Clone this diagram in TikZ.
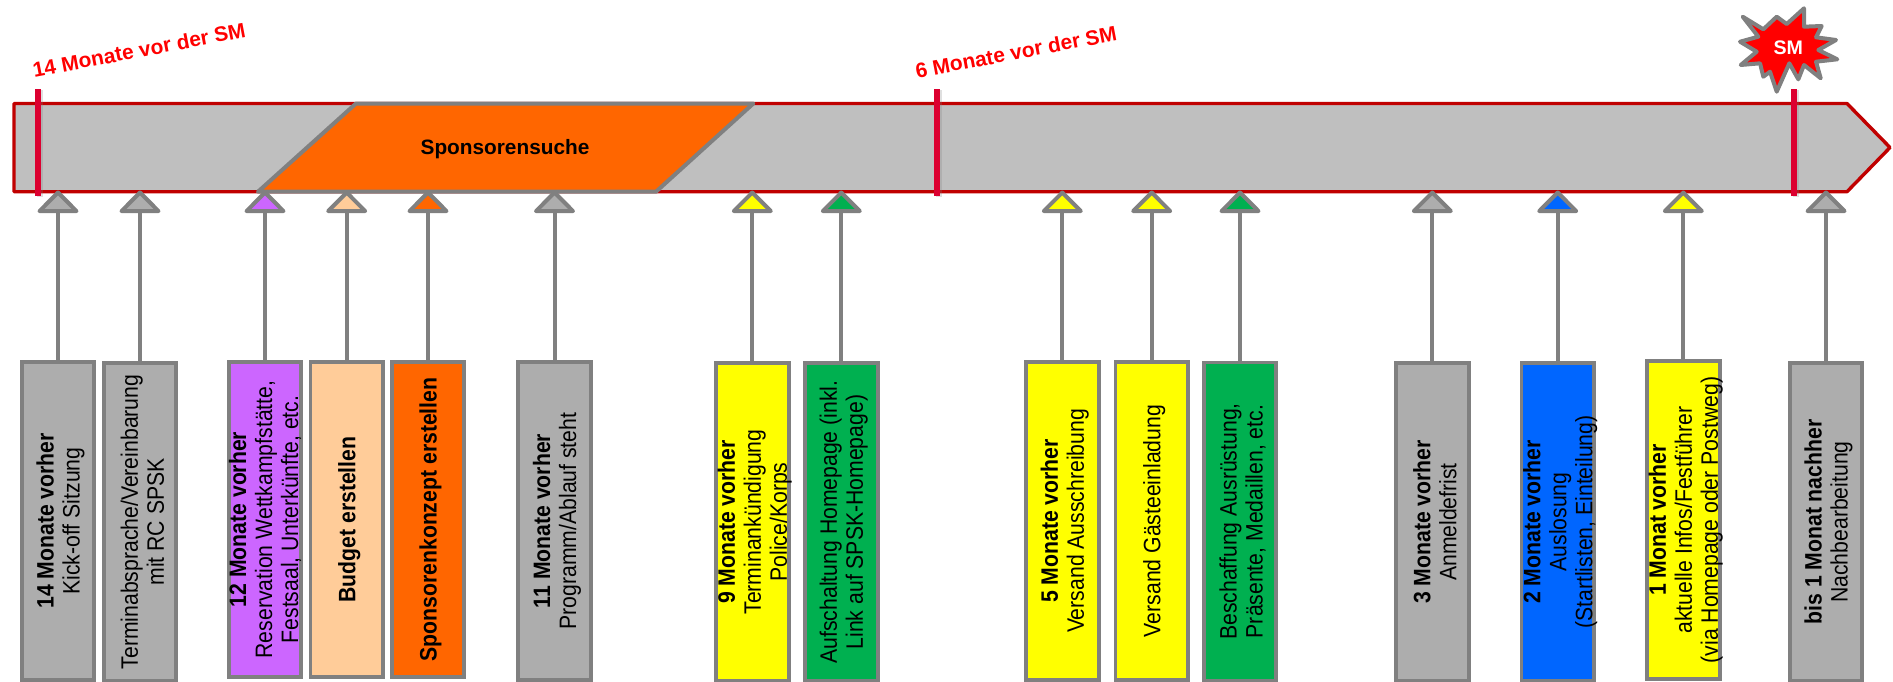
\documentclass[tikz,border=0pt]{standalone}
\usepackage{fontspec}
\setmainfont{Liberation Sans}
\usetikzlibrary{shapes.geometric,shadows}
\definecolor{barfill}{HTML}{BFBFBF}
\definecolor{barline}{HTML}{C00000}
\definecolor{tickred}{HTML}{DC0030}
\definecolor{edgegray}{HTML}{808080}
\definecolor{boxgray}{HTML}{ADADAD}
\definecolor{boxpurple}{HTML}{CC66FF}
\definecolor{boxpeach}{HTML}{FFCC99}
\definecolor{boxorange}{HTML}{FF6600}
\definecolor{boxyellow}{HTML}{FFFF00}
\definecolor{boxgreen}{HTML}{00B050}
\definecolor{boxblue}{HTML}{0066FF}
\begin{document}
\begin{tikzpicture}[x=0.5pt,y=-0.5pt,
    taskbox/.style ={rectangle, draw=edgegray, line width=1.9pt, inner sep=0pt,
      minimum height=159pt, minimum width=36.3pt},
    tasktext/.style ={transform shape, rotate=90, yscale=1.12, inner sep=0pt, yshift=-1.1pt, align=center,
      font=\fontsize{10.6}{11.6}\selectfont},
    marker/.style ={isosceles triangle, isosceles triangle apex angle=90, isosceles triangle stretches,
      shape border rotate=90, anchor=apex, draw=edgegray, line width=2pt, line join=round,
      inner sep=0pt, outer sep=0pt, minimum height=9.3pt, minimum width=18.5pt},
    stem/.style ={draw=edgegray, line width=2pt},
    tick/.style ={rectangle, fill=tickred, inner sep=0pt, minimum width=3pt, minimum height=53.5pt,
      drop shadow={shadow xshift=1pt, shadow yshift=-0.5pt, opacity=0.25}},
    monthnote/.style ={text=red, rotate=10.8, font=\fontsize{10.45}{13}\selectfont\bfseries}]
   \useasboundingbox (0,0) rectangle (1893,681);
   % time bar
   \draw[barline, fill=barfill, line width=1.7pt, line join=round]
     (14,103.5) -- (1847,103.5) -- (1890,147.5) -- (1847,191.7) -- (14,191.7) -- cycle;
   \draw[edgegray, fill=boxorange, line width=2pt, line join=round]
     (258,191.7) -- (356,103.5) -- (753.3,103.5) -- (656,191.7) -- cycle;
   \node[font=\fontsize{10.4}{13}\selectfont\bfseries] (search) at (505,149) {Sponsorensuche};
   % ticks
   \node[tick] (start) at (38,142.5) {};
   \node[tick] (half) at (937.3,142.5) {};
   \node[tick] (event) at (1794,142.5) {};
   \node[monthnote] (startnote) at (139,50) {14 Monate vor der SM};
   \node[monthnote] (halfnote) at (1016,52) {6 Monate vor der SM};
   % event star
   \draw[edgegray, fill=red, line width=2pt, line join=round]
     (1742.7,16.7) -- (1763.3,29.3) -- (1776.7,16.7) -- (1786.7,24) -- (1804,8.3) -- (1804,26.7)
     -- (1821.7,26) -- (1816,37.3) -- (1836,40) -- (1818.3,50) -- (1837.3,59.3) -- (1816,61.7)
     -- (1820.7,78.3) -- (1804,65) -- (1798.3,79.3) -- (1789.3,63.3) -- (1776.7,91.7) -- (1770,71.7)
     -- (1763.3,76.7) -- (1760,63.3) -- (1740.7,65) -- (1756.7,51.7) -- (1740,41.7) -- (1758.3,36.7) -- cycle;
   \node[text=white, font=\fontsize{9.8}{12}\selectfont\bfseries] (sm) at (1788.3,48) {SM};
   % triangles on the bar
   \node[marker, fill=boxgray] (m1) at (58,192.5) {};
   \node[marker, fill=boxgray] (m2) at (140,192.5) {};
   \node[marker, fill=boxpurple] (m3) at (265,192.5) {};
   \node[marker, fill=boxpeach] (m4) at (346.7,192.5) {};
   \node[marker, fill=boxorange] (m5) at (428,192.5) {};
   \node[marker, fill=boxgray] (m6) at (554.5,192.5) {};
   \node[marker, fill=boxyellow] (m7) at (752.3,192.5) {};
   \node[marker, fill=boxgreen] (m8) at (841.3,192.5) {};
   \node[marker, fill=boxyellow] (m9) at (1062.3,192.5) {};
   \node[marker, fill=boxyellow] (m10) at (1151.7,192.5) {};
   \node[marker, fill=boxgreen] (m11) at (1240,192.5) {};
   \node[marker, fill=boxgray] (m12) at (1432.3,192.5) {};
   \node[marker, fill=boxblue] (m13) at (1557.7,192.5) {};
   \node[marker, fill=boxyellow] (m14) at (1683.3,192.5) {};
   \node[marker, fill=boxgray] (m15) at (1826,192.5) {};
   % task boxes
   \node[taskbox, fill=boxgray, label={[tasktext]center:{\textbf{14 Monate vorher}\\Kick-off Sitzung}}] (b1) at (58,521) {};
   \node[taskbox, fill=boxgray, label={[tasktext]center:{Terminabsprache/Vereinbarung\\mit RC SPSK}}] (b2) at (140,522) {};
   \node[taskbox, fill=boxpurple, minimum height=157.5pt, label={[tasktext, yshift=1.1pt]center:{\textbf{12 Monate vorher}\\Reservation Wettkampfstätte,\\Festsaal, Unterkünfte, etc.}}] (b3) at (265,519.5) {};
   \node[taskbox, fill=boxpeach, minimum height=157.5pt, label={[tasktext]center:{\textbf{Budget erstellen}}}] (b4) at (346.7,519.5) {};
   \node[taskbox, fill=boxorange, minimum height=157.5pt, label={[tasktext]center:{\textbf{Sponsorenkonzept erstellen}}}] (b5) at (428,519.5) {};
   \node[taskbox, fill=boxgray, label={[tasktext]center:{\textbf{11 Monate vorher}\\Programm/Ablauf steht}}] (b6) at (554.5,521) {};
   \node[taskbox, fill=boxyellow, label={[tasktext]center:{\textbf{9 Monate vorher}\\Terminankündigung\\Police/Korps}}] (b7) at (752.3,522) {};
   \node[taskbox, fill=boxgreen, label={[tasktext]center:{Aufschaltung Homepage (inkl.\\Link auf SPSK-Homepage)}}] (b8) at (841.3,522) {};
   \node[taskbox, fill=boxyellow, label={[tasktext]center:{\textbf{5 Monate vorher}\\Versand Ausschreibung}}] (b9) at (1062.3,521) {};
   \node[taskbox, fill=boxyellow, label={[tasktext]center:{Versand Gästeeinladung}}] (b10) at (1151.7,521) {};
   \node[taskbox, fill=boxgreen, label={[tasktext]center:{Beschaffung Ausrüstung,\\Präsente, Medaillen, etc.}}] (b11) at (1240,521.5) {};
   \node[taskbox, fill=boxgray, label={[tasktext]center:{\textbf{3 Monate vorher}\\Anmeldefrist}}] (b12) at (1432.3,522) {};
   \node[taskbox, fill=boxblue, label={[tasktext]center:{\textbf{2 Monate vorher}\\Auslosung\\(Startlisten, Einteilung)}}] (b13) at (1557.7,522) {};
   \node[taskbox, fill=boxyellow, label={[tasktext]center:{\textbf{1 Monat vorher}\\aktuelle Infos/Festführer\\(via Homepage oder Postweg)}}] (b14) at (1683.3,520) {};
   \node[taskbox, fill=boxgray, label={[tasktext]center:{\textbf{bis 1 Monat nachher}\\Nachbearbeitung}}] (b15) at (1826,522) {};
   % stems
   \draw[stem] (b1.north) -- (m1.south);
   \draw[stem] (b2.north) -- (m2.south);
   \draw[stem] (b3.north) -- (m3.south);
   \draw[stem] (b4.north) -- (m4.south);
   \draw[stem] (b5.north) -- (m5.south);
   \draw[stem] (b6.north) -- (m6.south);
   \draw[stem] (b7.north) -- (m7.south);
   \draw[stem] (b8.north) -- (m8.south);
   \draw[stem] (b9.north) -- (m9.south);
   \draw[stem] (b10.north) -- (m10.south);
   \draw[stem] (b11.north) -- (m11.south);
   \draw[stem] (b12.north) -- (m12.south);
   \draw[stem] (b13.north) -- (m13.south);
   \draw[stem] (b14.north) -- (m14.south);
   \draw[stem] (b15.north) -- (m15.south);
\end{tikzpicture}
\end{document}
